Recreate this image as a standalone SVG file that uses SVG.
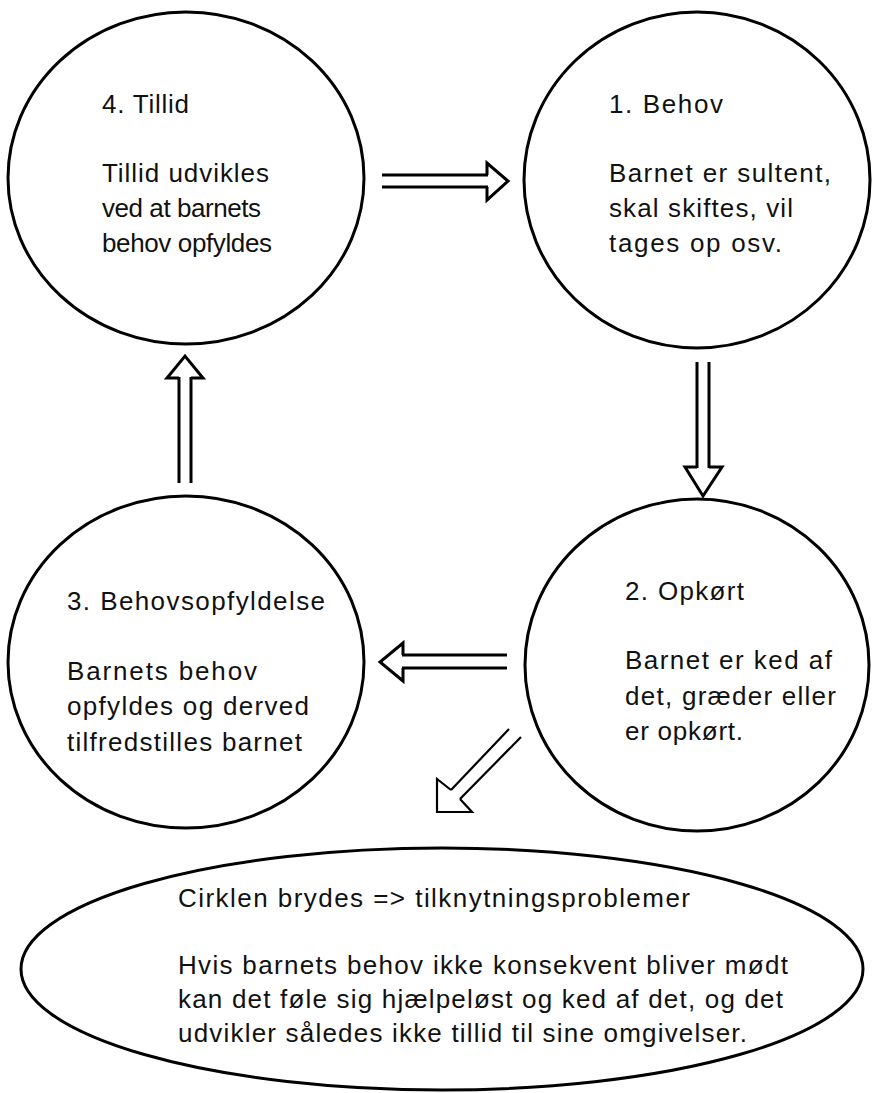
<svg xmlns="http://www.w3.org/2000/svg" width="872" height="1093" viewBox="0 0 872 1093">
<style>
.node{fill:#fff;stroke:#000;stroke-width:3}
.t{font-family:"Liberation Sans",Arial,sans-serif;font-size:26px;fill:#111}
.ar{fill:none;stroke:#000;stroke-width:3;stroke-linejoin:miter}
.ar2{fill:none;stroke:#000;stroke-width:2.2;stroke-linejoin:miter}
</style>
<rect width="872" height="1093" fill="#fff"/>
<g id="connectors">
<g id="arrow-4-1">
<line class="ar" x1="382" y1="175" x2="488" y2="175"/>
<line class="ar" x1="382" y1="187" x2="488" y2="187"/>
<polyline class="ar" points="487,175 487,163 508,181 487,200 487,187"/>
</g>
<g id="arrow-1-2">
<line class="ar" x1="697" y1="362" x2="697" y2="468"/>
<line class="ar" x1="709" y1="362" x2="709" y2="468"/>
<polyline class="ar" points="697,467 685,467 703,496 722,467 709,467"/>
</g>
<g id="arrow-2-3">
<line class="ar" x1="507" y1="655" x2="402" y2="655"/>
<line class="ar" x1="507" y1="668" x2="402" y2="668"/>
<polyline class="ar" points="403,655 403,643 380,662 403,681 403,668"/>
</g>
<g id="arrow-3-4">
<line class="ar" x1="179" y1="483" x2="179" y2="377"/>
<line class="ar" x1="191" y1="483" x2="191" y2="377"/>
<polyline class="ar" points="179,378 167,378 185,356 203,378 191,378"/>
</g>
<g id="arrow-2-5">
<line class="ar2" x1="509" y1="729" x2="451" y2="790"/>
<line class="ar2" x1="521" y1="737" x2="460" y2="799"/>
<polyline class="ar2" points="451,790 437,779 437,812 472,812 460,799"/>
</g>
</g>
<g id="node-4">
<ellipse class="node" cx="186" cy="178" rx="178" ry="166"/>
<text class="t" x="102" y="113" textLength="87" lengthAdjust="spacing">4. Tillid</text>
<text class="t" x="102" y="182" textLength="167" lengthAdjust="spacing">Tillid udvikles</text>
<text class="t" x="102" y="217" textLength="159" lengthAdjust="spacing">ved at barnets</text>
<text class="t" x="102" y="252" textLength="170" lengthAdjust="spacing">behov opfyldes</text>
</g>
<g id="node-1">
<ellipse class="node" cx="697" cy="180" rx="173" ry="168"/>
<text class="t" x="609" y="113" textLength="114" lengthAdjust="spacing">1. Behov</text>
<text class="t" x="609" y="182" textLength="222" lengthAdjust="spacing">Barnet er sultent,</text>
<text class="t" x="609" y="217" textLength="184" lengthAdjust="spacing">skal skiftes, vil</text>
<text class="t" x="609" y="252" textLength="173" lengthAdjust="spacing">tages op osv.</text>
</g>
<g id="node-3">
<ellipse class="node" cx="186" cy="662" rx="178" ry="166"/>
<text class="t" x="67" y="610" textLength="258" lengthAdjust="spacing">3. Behovsopfyldelse</text>
<text class="t" x="67" y="680" textLength="190" lengthAdjust="spacing">Barnets behov</text>
<text class="t" x="67" y="715" textLength="242" lengthAdjust="spacing">opfyldes og derved</text>
<text class="t" x="67" y="751" textLength="235" lengthAdjust="spacing">tilfredstilles barnet</text>
</g>
<g id="node-2">
<ellipse class="node" cx="697" cy="665" rx="172" ry="166"/>
<text class="t" x="625" y="600" textLength="119" lengthAdjust="spacing">2. Opkørt</text>
<text class="t" x="625" y="669" textLength="207" lengthAdjust="spacing">Barnet er ked af</text>
<text class="t" x="625" y="705" textLength="211" lengthAdjust="spacing">det, græder eller</text>
<text class="t" x="625" y="740" textLength="118" lengthAdjust="spacing">er opkørt.</text>
</g>
<g id="node-5">
<ellipse class="node" cx="442" cy="969" rx="421" ry="121"/>
<text class="t" x="178" y="907" textLength="512" lengthAdjust="spacing">Cirklen brydes =&gt; tilknytningsproblemer</text>
<text class="t" x="178" y="974" textLength="610" lengthAdjust="spacing">Hvis barnets behov ikke konsekvent bliver mødt</text>
<text class="t" x="178" y="1008" textLength="605" lengthAdjust="spacing">kan det føle sig hjælpeløst og ked af det, og det</text>
<text class="t" x="178" y="1042" textLength="569" lengthAdjust="spacing">udvikler således ikke tillid til sine omgivelser.</text>
</g>
</svg>
